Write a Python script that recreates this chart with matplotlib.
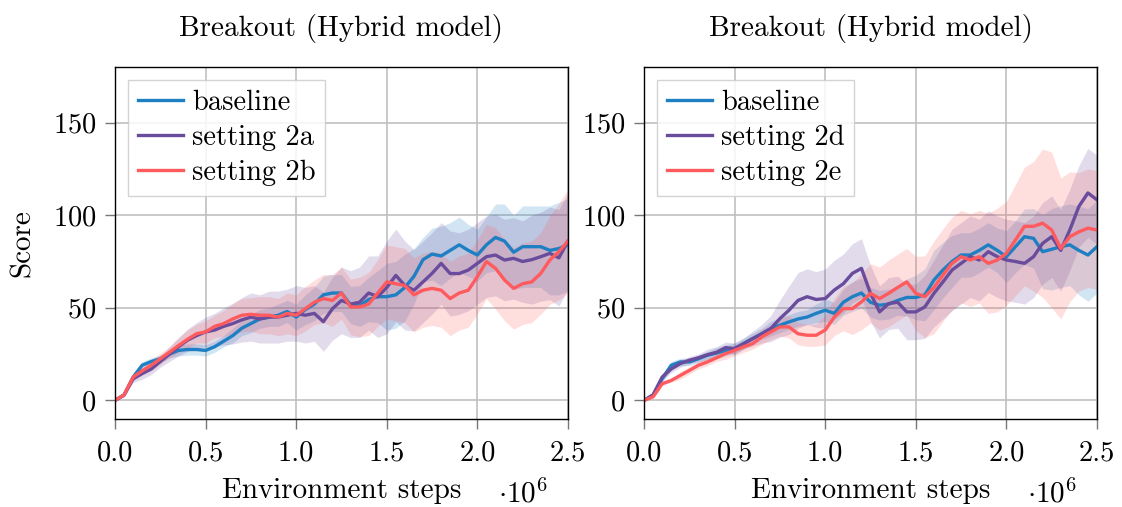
import numpy as np
import matplotlib
matplotlib.use("Agg")
import matplotlib.pyplot as plt
from matplotlib.ticker import FuncFormatter

plt.rcParams['font.family'] = 'serif'
plt.rcParams['font.serif'] = ['cmr10']
plt.rcParams['mathtext.fontset'] = 'cm'
plt.rcParams['axes.formatter.use_mathtext'] = True

steps = np.arange(51) * 0.05e6

# Left panel
left_baseline = [0, 3, 12.6, 19, 21, 22.5, 25, 27, 27.5, 27.5, 27,
                 29, 32, 35, 39, 41.5, 44, 45, 46, 48, 45,
                 49, 52, 57, 58, 58, 51.5, 51, 54.5, 56, 56,
                 57, 61, 67, 76, 79, 78, 81, 84, 81, 78.5,
                 84, 88, 86, 80, 83, 83, 83, 81, 82, 84]
left_2a = [0, 3, 11.7, 14.5, 17, 21, 25, 29, 32.5, 35, 37,
           38, 40, 41.5, 43.5, 45, 44, 45, 45, 46, 47,
           46, 47, 42.5, 49.5, 54, 52, 53, 58, 56, 61,
           67.5, 62, 59.5, 64, 68.6, 74, 68.5, 68.5, 70.4, 74,
           77.6, 78.5, 75.8, 76.7, 75, 76, 77.6, 79.4, 77, 86]
left_2b = [0, 3, 12.6, 16, 19, 22.5, 26, 29.6, 33, 36, 37,
           40, 41.5, 44, 46, 46.5, 46, 46, 45, 47, 46,
           49.5, 53, 55, 54, 58, 50.5, 50.5, 52, 58, 64,
           63, 62, 57, 59.5, 60.5, 59.5, 55, 58, 59.5, 66.8,
           75, 71.3, 65, 60.5, 63, 64, 68.6, 75.8, 80.3, 86]
left_baseline_sd = [0, 1, 2, 2, 2, 2, 2, 3, 3, 3, 3,
                    3, 3, 4, 4, 5, 5, 5, 6, 6, 7,
                    8, 9, 10, 10, 10, 10, 11, 12, 14, 18,
                    18, 18, 15, 12, 14, 16, 15, 15, 14, 14,
                    15, 18, 20, 20, 22, 22, 22, 24, 25, 25]
left_2a_sd = [0, 1, 2, 3, 3, 3, 4, 5, 6, 7, 8,
              9, 10, 11, 12, 13, 13, 14, 14, 14, 15,
              15, 15, 16, 17, 18, 18, 19, 20, 22, 25,
              25, 24, 22, 22, 22, 22, 23, 22, 22, 22,
              22, 22, 22, 22, 22, 24, 24, 25, 26, 26]
left_2b_sd = [0, 1, 2, 2, 3, 3, 3, 4, 5, 5, 6,
              6, 7, 8, 9, 9, 10, 10, 10, 11, 11,
              12, 12, 13, 14, 14, 15, 16, 17, 18, 20,
              20, 20, 20, 20, 20, 20, 20, 20, 20, 20,
              20, 22, 22, 22, 22, 22, 22, 24, 26, 28]

# Right panel
right_baseline = [0, 3, 11.7, 19, 20.8, 20.8, 22.5, 24.4, 25.6, 27, 28,
                  30.7, 33.4, 36, 38.8, 40.6, 42.4, 44, 45, 47, 48.7,
                  47, 53, 56, 58, 53, 51.4, 52, 54, 55.6, 55.6,
                  57, 65, 70.4, 75, 78.5, 78.5, 81, 84, 81, 77.6,
                  83, 88.4, 87.5, 80.3, 81.6, 83, 84, 81, 78.5, 83]
right_2d = [0, 3, 12.6, 17, 19.9, 21.7, 23, 24.7, 26, 28.5, 28,
            30.7, 33.4, 36, 38.8, 44.2, 48.7, 54, 56, 54.5, 55,
            59.6, 63, 68.6, 71.3, 57.8, 47.8, 52.3, 53, 47.8, 47.8,
            50.5, 57.8, 64, 70.4, 74, 77.6, 75.8, 80.3, 77.6, 75.8,
            75, 74, 77.6, 84.8, 88.4, 81, 92, 104.7, 112, 108.3]
right_2e = [0, 2, 9, 10.8, 13.5, 16.2, 19, 20.8, 23, 25.3, 27,
            29, 30.7, 34.3, 37, 39.7, 39.7, 36, 35.2, 35.2, 38,
            45, 49.6, 49.6, 53.2, 57.8, 55, 57.8, 61, 64, 57.8,
            56, 61, 67.7, 74, 77.6, 75.8, 77.6, 74, 75.8, 79.4,
            86.6, 94, 94, 95.7, 92, 82, 88.4, 91, 93, 92]
right_baseline_sd = [0, 1, 2, 2, 2, 2, 2, 2, 3, 3, 3,
                     3, 3, 3, 4, 4, 4, 4, 4, 5, 6,
                     6, 7, 8, 8, 8, 8, 8, 8, 10, 12,
                     14, 16, 15, 14, 12, 12, 12, 12, 12, 14,
                     14, 15, 16, 20, 22, 22, 22, 24, 25, 25]
right_2d_sd = [0, 1, 2, 2, 2, 2, 2, 3, 3, 3, 3,
               3, 4, 5, 7, 10, 13, 15, 15, 15, 16,
               16, 16, 16, 16, 15, 14, 14, 14, 15, 15,
               17, 18, 20, 22, 22, 22, 22, 22, 22, 22,
               22, 22, 22, 22, 22, 22, 22, 22, 24, 24]
right_2e_sd = [0, 1, 1, 1, 2, 2, 2, 2, 2, 3, 3,
               3, 3, 4, 4, 5, 6, 6, 6, 6, 8,
               10, 12, 14, 15, 16, 17, 18, 18, 18, 20,
               22, 25, 25, 25, 25, 25, 25, 27, 28, 28,
               30, 32, 35, 40, 42, 38, 35, 32, 32, 32]

titles = ["Breakout (Hybrid model)", "Breakout (Hybrid model)"]
left_labels = ["baseline", "setting 2a", "setting 2b"]
right_labels = ["baseline", "setting 2d", "setting 2e"]
colors = ["#1f7fc3", "#6a4c9c", "#ff5a5e"]

xticks = [0, 0.5e6, 1.0e6, 1.5e6, 2.0e6, 2.5e6]
yticks = [0, 50, 100, 150]

fig = plt.figure(figsize=(11.22, 5.07), dpi=100)
ax1 = fig.add_axes([0.1025, 0.1736, 0.4037, 0.6943])
ax2 = fig.add_axes([0.574, 0.1736, 0.4037, 0.6943])

panels = [
    (ax1, [left_baseline, left_2a, left_2b], [left_baseline_sd, left_2a_sd, left_2b_sd], left_labels, titles[0]),
    (ax2, [right_baseline, right_2d, right_2e], [right_baseline_sd, right_2d_sd, right_2e_sd], right_labels, titles[1]),
]

fs_tick = 20.5
fs_lab = 21
for ax, series, sds, labels, title in panels:
    for s, sd, lab, c in zip(series, sds, labels, colors):
        s = np.array(s, dtype=float)
        sd = np.array(sd, dtype=float)
        ax.fill_between(steps, s - sd, s + sd, color=c, alpha=0.2, linewidth=0)
        ax.plot(steps, s, color=c, lw=2.4, label=lab)
    ax.set_xlim(0, 2.5e6)
    ax.set_ylim(-10, 180)
    ax.set_xticks(xticks)
    ax.set_yticks(yticks)
    ax.xaxis.set_major_formatter(FuncFormatter(lambda v, p: f"{v/1e6:.1f}"))
    ax.grid(True, color="#c0c0c0", lw=1.2)
    ax.set_axisbelow(True)
    ax.tick_params(axis="x", pad=8)
    ax.tick_params(labelsize=fs_tick, direction="out", length=7.5, width=1.0,
                   color="#777777")
    ax.tick_params(axis="y", pad=6)
    for sp in ax.spines.values():
        sp.set_linewidth(1.0)
        sp.set_color("black")
    ax.set_title(title, fontsize=fs_lab, pad=22)
    ax.set_xlabel("Environment steps", fontsize=fs_lab, labelpad=8)
    ax.text(0.90, -0.238, r"$\cdot 10^6$", transform=ax.transAxes, fontsize=fs_lab,
            ha="center", va="baseline")
    leg = ax.legend(loc="upper left", fontsize=fs_tick, frameon=True, fancybox=False,
                    edgecolor="#cccccc", framealpha=0.85, borderaxespad=0.45,
                    handlelength=1.6, handletextpad=0.3, labelspacing=0.3,
                    borderpad=0.35)
    leg.get_frame().set_linewidth(1.0)

ax1.set_ylabel("Score", fontsize=fs_lab, labelpad=12)

fig.savefig("out.png", dpi=100)
